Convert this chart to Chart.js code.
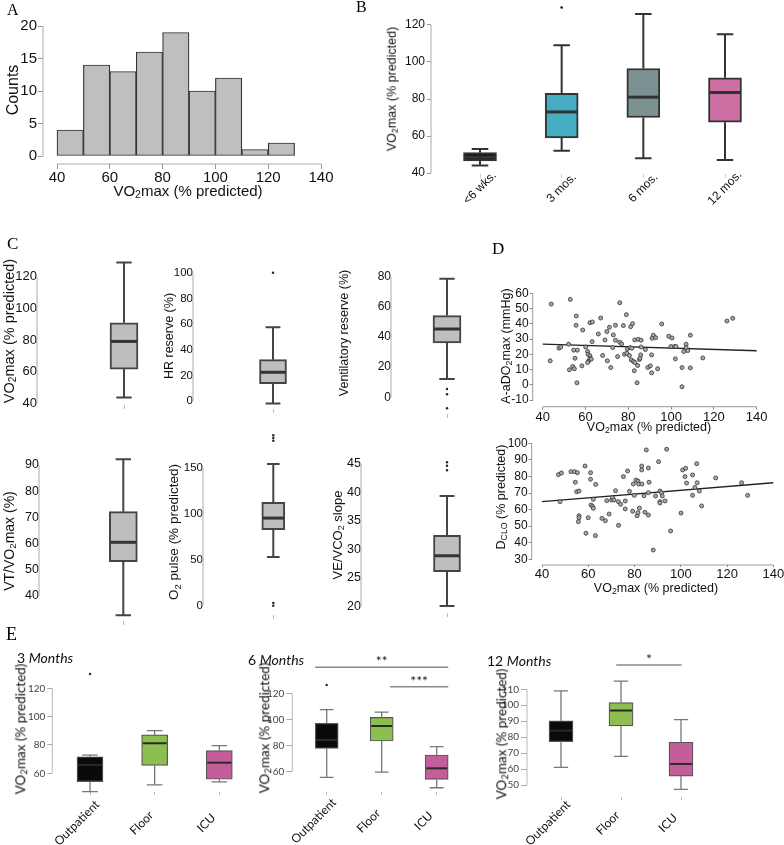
<!DOCTYPE html>
<html>
<head>
<meta charset="utf-8">
<title>VO2max figure</title>
<script src="https://cdn.jsdelivr.net/npm/chart.js@4.4.1/dist/chart.umd.min.js"></script>
<style>
  body { margin: 0; width: 784px; height: 845px; position: relative; overflow: hidden; background: #fff;
         font-family: 'Liberation Sans', Arial, sans-serif; color: #111; }
  canvas { position: absolute; left: 0; top: 0; }
  .t { position: absolute; white-space: nowrap; line-height: 1; }
  .rot { transform: translate(-50%, -50%) rotate(-90deg); }
  .mid { transform: translate(-50%, -50%); }
  .left { transform: translateY(-50%); }
  .pl { font-family: 'Liberation Serif', 'Times New Roman', serif; color: #000; }
  .lato { font-family: Lato, sans-serif; }
  sub { font-size: 0.7em; vertical-align: -0.25em; line-height: 0; }
</style>
</head>
<body>
<canvas id="cA" width="784" height="845"></canvas>
<canvas id="cB" width="784" height="845"></canvas>
<canvas id="cC1" width="784" height="845"></canvas>
<canvas id="cC2" width="784" height="845"></canvas>
<canvas id="cC3" width="784" height="845"></canvas>
<canvas id="cC4" width="784" height="845"></canvas>
<canvas id="cC5" width="784" height="845"></canvas>
<canvas id="cC6" width="784" height="845"></canvas>
<canvas id="cD1" width="784" height="845"></canvas>
<canvas id="cD2" width="784" height="845"></canvas>
<canvas id="cE1" width="784" height="845"></canvas>
<canvas id="cE2" width="784" height="845"></canvas>
<canvas id="cE3" width="784" height="845"></canvas>

<div class="t pl" style="left:7px;top:2px;font-size:16px">A</div>
<div class="t pl" style="left:356px;top:-1px;font-size:16px">B</div>
<div class="t pl" style="left:7px;top:235px;font-size:17px">C</div>
<div class="t pl" style="left:492px;top:240px;font-size:17px">D</div>
<div class="t pl" style="left:6px;top:625px;font-size:18px">E</div>

<div class="t rot" style="left:13px;top:90px;font-size:16px">Counts</div>
<div class="t mid" style="left:188px;top:190px;font-size:15px">VO<sub>2</sub>max (% predicted)</div>
<div class="t rot" style="left:392px;top:89px;font-size:12.5px">VO<sub>2</sub>max (% predicted)</div>
<div class="t rot" style="left:9px;top:331px;font-size:14.5px">VO<sub>2</sub>max (% predicted)</div>
<div class="t rot" style="left:169px;top:336px;font-size:12.5px">HR reserve (%)</div>
<div class="t rot" style="left:344px;top:333px;font-size:12.5px">Ventilatory reserve (%)</div>
<div class="t rot" style="left:9px;top:541px;font-size:14px">VT/VO<sub>2</sub>max (%)</div>
<div class="t rot" style="left:174px;top:532px;font-size:13.5px">O<sub>2</sub> pulse (% predicted)</div>
<div class="t rot" style="left:337px;top:535px;font-size:13px">VE/VCO<sub>2</sub> slope</div>
<div class="t rot" style="left:506px;top:346px;font-size:12.5px">A-aDO<sub>2</sub>max (mmHg)</div>
<div class="t mid" style="left:649px;top:427px;font-size:12.5px">VO<sub>2</sub>max (% predicted)</div>
<div class="t rot" style="left:501px;top:497px;font-size:12.5px">D<sub>CLO</sub> (% predicted)</div>
<div class="t mid" style="left:656px;top:588px;font-size:12.5px">VO<sub>2</sub>max (% predicted)</div>
<div class="t lato left" style="left:17px;top:658px;font-size:14px">3 <i>Months</i></div>
<div class="t lato left" style="left:248px;top:660px;font-size:14px">6 <i>Months</i></div>
<div class="t lato left" style="left:487px;top:661px;font-size:14px">12 <i>Months</i></div>
<div class="t lato rot" style="left:21px;top:729px;font-size:13.5px">VO<sub>2</sub>max (% predicted)</div>
<div class="t lato rot" style="left:265px;top:728px;font-size:13.5px">VO<sub>2</sub>max (% predicted)</div>
<div class="t lato rot" style="left:502px;top:734px;font-size:13.5px">VO<sub>2</sub>max (% predicted)</div>

<script>
// ---------- A: histogram
const histEdges = [40, 50, 60, 70, 80, 90, 100, 110, 120];
const histWidth = 10;
const histCounts = [4, 14, 13, 16, 19, 10, 12, 1, 2];
const histTicksX = [40, 60, 80, 100, 120, 140];
const histTicksY = [0, 5, 10, 15, 20];

// ---------- B: VO2max by time since illness
const timeCats = ['<6 wks.', '3 mos.', '6 mos.', '12 mos.'];
const timeLow  = [44, 52, 48, 47];
const timeQ1   = [46.5, 59, 70, 67.5];
const timeMed  = [48.5, 73, 81, 83.5];
const timeQ3   = [51, 83, 96.5, 91.5];
const timeHigh = [53, 109, 126, 115];
const timeOut  = [[], [129.5], [], []];
const timeTicks = [40, 60, 80, 100, 120];

// ---------- C: CPET variables (VO2max, HR res, vent res, VT/VO2max, O2 pulse, VE/VCO2)
const cpetLow  = [43.7, -2, 12.2, 32.7, 53.3, 20.1];
const cpetQ1   = [61.6, 13.5, 36, 53.1, 83, 26.1];
const cpetMed  = [79.1, 22.4, 45.3, 60.5, 95.7, 28.9];
const cpetQ3   = [90.9, 32.2, 54.2, 72.2, 113, 32.5];
const cpetHigh = [128.9, 57.4, 78.7, 92.2, 154.7, 39.4];
const cpetOut  = [[], [100], [5.5, 2, -7.3], [], [186, 183, 180, 3, 0], [45.3, 44.7, 43.9]];
const cpetTicks = [
  [40, 60, 80, 100, 120], [0, 20, 40, 60, 80, 100], [0, 20, 40, 60, 80],
  [40, 50, 60, 70, 80, 90], [0, 50, 100, 150], [20, 25, 30, 35, 40, 45]
];

// ---------- D: scatter plots
const d1x = [44.0, 52.9, 55.7, 55.6, 58.7, 62.1, 63.2, 67.1, 66.0, 63.1, 71.2, 70.0, 74.0, 76.0, 79.1, 77.7, 81.1, 82.0, 73.0, 74.0,
  76.0, 76.9, 69.1, 47.6, 48.4, 52.1, 43.5, 54.5, 56.2, 55.1, 54.0, 54.8, 52.5, 56.0, 58.3, 60.1, 61.0, 61.2, 62.1, 61.5,
  62.1, 62.7, 61.0, 68.0, 70.2, 71.8, 72.7, 75.0, 78.2, 79.3, 79.6, 80.8, 81.6, 80.5, 81.4, 82.4, 83.1, 82.8, 84.1, 84.4,
  85.2, 85.5, 85.8, 83.0, 84.7, 86.0, 86.0, 88.0, 89.1, 90.3, 90.9, 90.9, 91.1, 91.7, 92.8, 93.7, 95.6, 98.9, 100.4, 99.9,
  101.5, 102.3, 102.0, 105.1, 105.1, 105.9, 107.0, 107.0, 107.8, 109.0, 109.0, 114.8, 126.1, 128.8];
const d1y = [52.9, 56.0, 45.1, 39.0, 35.9, 40.7, 41.2, 43.8, 33.3, 28.3, 37.7, 34.9, 39.0, 53.8, 46.0, 38.8, 38.1, 40.1, 32.7, 29.2,
  27.9, 26.8, 29.4, 24.0, 24.8, 26.6, 15.7, 22.7, 22.7, 17.4, 12.0, 10.5, 9.8, 1.3, 12.4, 24.8, 21.8, 20.0, 19.0, 15.7,
  17.4, 16.8, 14.6, 19.2, 15.7, 11.3, 24.4, 18.5, 20.0, 20.7, 23.5, 24.4, 24.0, 19.2, 16.3, 15.3, 14.6, 9.2, 1.3, 12.6,
  16.6, 17.4, 19.6, 29.4, 29.8, 29.2, 24.8, 23.1, 11.3, 12.4, 19.6, 7.8, 30.5, 32.5, 30.9, 10.5, 39.9, 31.8, 30.7, 25.1,
  25.1, 25.1, 17.0, 11.3, -1.3, 21.8, 26.6, 24.4, 22.4, 32.5, 11.1, 17.6, 41.8, 43.6];
const d1FitX = [40, 140];
const d1FitY = [26.6, 22.3];
const d2x = [47.1, 48.4, 47.8, 52.5, 54.0, 55.3, 54.4, 55.0, 56.0, 56.0, 56.0, 55.7, 58.6, 61.0, 61.0, 63.2, 61.2, 61.9, 62.2, 62.2,
  60.0, 59.0, 63.1, 65.9, 67.4, 69.0, 68.0, 70.1, 70.5, 71.1, 71.8, 73.0, 74.0, 73.1, 75.2, 77.0, 77.8, 76.0, 76.0, 79.2,
  79.5, 79.9, 80.6, 81.5, 81.8, 81.1, 81.5, 82.1, 83.1, 83.1, 83.2, 84.1, 84.5, 85.1, 86.0, 86.3, 86.0, 86.0, 88.1, 89.1,
  90.4, 91.0, 91.0, 91.0, 91.7, 92.0, 93.2, 93.9, 95.6, 100.1, 100.8, 102.1, 101.8, 102.5, 105.1, 105.1, 106.1, 106.9, 107.1, 108.0,
  109.0, 115.1, 126.3, 128.9];
const d2y = [81.1, 82.1, 64.8, 82.9, 82.9, 82.3, 76.5, 70.8, 71.2, 56.3, 55.1, 52.7, 86.3, 82.3, 78.3, 75.2, 62.8, 61.8, 60.8, 66.2,
  55.1, 45.7, 44.3, 54.7, 53.3, 57.3, 65.4, 65.8, 67.2, 65.8, 71.4, 64.8, 63.2, 50.5, 79.9, 83.3, 71.0, 65.2, 60.4, 59.0,
  75.4, 68.6, 77.8, 77.2, 75.4, 56.3, 58.1, 60.9, 86.3, 83.9, 75.4, 68.4, 58.4, 96.0, 85.1, 76.5, 70.2, 56.7, 35.6, 68.2,
  88.9, 71.2, 64.8, 64.0, 70.2, 68.2, 65.2, 96.4, 47.1, 57.9, 83.9, 84.9, 79.9, 76.0, 80.9, 68.6, 73.4, 87.7, 76.2, 71.2,
  62.2, 79.1, 76.2, 68.6];
const d2FitX = [40, 140];
const d2FitY = [64.8, 76.2];
const dTicksX = [40, 60, 80, 100, 120, 140];
const d1TicksY = [-10, 0, 10, 20, 30, 40, 50, 60];
const d2TicksY = [30, 40, 50, 60, 70, 80, 90, 100];

// ---------- E: by admission level, at 3 / 6 / 12 months
const wardCats = ['Outpatient', 'Floor', 'ICU'];
const wardLow  = [[47.1, 51.8, 53.9], [55.7, 59.7, 47.7], [61.1, 68, 47.3]];
const wardQ1   = [[54.1, 65.6, 55.8], [77.9, 83.5, 54.1], [77.2, 87, 55.6]];
const wardMed  = [[65.9, 81.2, 67.5], [84.3, 95, 62.6], [84.1, 96.7, 63.2]];
const wardQ3   = [[71.7, 87.1, 76], [97, 101.6, 72.8], [90.2, 101.7, 76.8]];
const wardHigh = [[72.9, 90.1, 79.5], [107.5, 105.7, 79.2], [109, 115.1, 91]];
const wardOut  = [[[130.1], [], []], [[126.4], [], []], [[], [], []]];
const wardTicks = [[60, 80, 100, 120], [60, 80, 100, 120], [50, 60, 70, 80, 90, 100, 110]];
// significance bars: from, to (category units), level (y units), label
const sigBars = [[], [[-0.21, 2.21, 140, '**'], [1.15, 2.21, 125.1, '***']], [[0.92, 2.01, 125.3, '*']]];

// ================= drawing =================
Chart.defaults.font.family = "'Liberation Sans', Arial, sans-serif";
Chart.defaults.color = '#111';

const W = 784, H = 845;

// R-style axis lines, only between first and last tick
Chart.register({
  id: 'rAxes',
  beforeDatasetsDraw(chart, args, o) {
    if (!o || !o.color) return;
    const {ctx, chartArea: a, scales: {x, y}} = chart;
    ctx.save();
    ctx.strokeStyle = o.color;
    ctx.lineWidth = o.width || 1;
    ctx.beginPath();
    if (o.y) {
      const t = y.ticks;
      ctx.moveTo(a.left, y.getPixelForValue(t[0].value));
      ctx.lineTo(a.left, y.getPixelForValue(t[t.length - 1].value));
    }
    if (o.x) {
      const t = x.ticks;
      ctx.moveTo(x.getPixelForValue(t[0].value), a.bottom);
      ctx.lineTo(x.getPixelForValue(t[t.length - 1].value), a.bottom);
    }
    ctx.stroke();
    ctx.restore();
  }
});

// whiskers, medians and outliers on top of the floating-bar boxes
Chart.register({
  id: 'boxes',
  afterDatasetsDraw(chart, args, o) {
    if (!o || !o.med) return;
    const {ctx} = chart;
    const y = chart.scales.y;
    const py = v => y.getPixelForValue(v);
    ctx.save();
    chart.getDatasetMeta(0).data.forEach((bar, i) => {
      const cx = bar.x, w = bar.width, cap = w * o.cap / 2;
      ctx.strokeStyle = o.wColor;
      ctx.lineWidth = o.wWidth;
      ctx.beginPath();
      ctx.moveTo(cx, py(o.q3[i])); ctx.lineTo(cx, py(o.high[i]));
      ctx.moveTo(cx - cap, py(o.high[i])); ctx.lineTo(cx + cap, py(o.high[i]));
      ctx.moveTo(cx, py(o.q1[i])); ctx.lineTo(cx, py(o.low[i]));
      ctx.moveTo(cx - cap, py(o.low[i])); ctx.lineTo(cx + cap, py(o.low[i]));
      ctx.stroke();
      ctx.strokeStyle = o.mColor;
      ctx.lineWidth = o.mWidth;
      ctx.beginPath();
      ctx.moveTo(cx - w / 2 + 1, py(o.med[i]));
      ctx.lineTo(cx + w / 2 - 1, py(o.med[i]));
      ctx.stroke();
      ctx.fillStyle = o.oColor;
      (o.out[i] || []).forEach(v => {
        ctx.beginPath();
        ctx.arc(cx, py(v), o.oRadius, 0, Math.PI * 2);
        ctx.fill();
      });
    });
    ctx.restore();
  }
});

// category names under the ticks, rotated 45 degrees and centred on their anchor
Chart.register({
  id: 'rotLabels',
  afterDraw(chart, args, o) {
    if (!o || !o.labels) return;
    const {ctx, chartArea: a, scales: {x}} = chart;
    ctx.save();
    ctx.font = o.font;
    ctx.fillStyle = o.color || '#111';
    ctx.textAlign = 'center';
    ctx.textBaseline = 'middle';
    o.labels.forEach((lab, i) => {
      ctx.save();
      ctx.translate(x.getPixelForValue(i) + o.dx, a.bottom + o.dy);
      ctx.rotate(-Math.PI / 4);
      ctx.fillText(lab, 0, 0);
      ctx.restore();
    });
    ctx.restore();
  }
});

// significance brackets
Chart.register({
  id: 'sig',
  afterDraw(chart, args, o) {
    if (!o || !o.items || !o.items.length) return;
    const {ctx, scales: {x, y}} = chart;
    ctx.save();
    o.items.forEach(([from, to, lv, label]) => {
      const x1 = x.getPixelForValue(from), x2 = x.getPixelForValue(to), yy = y.getPixelForValue(lv);
      ctx.strokeStyle = '#8a8a8a';
      ctx.lineWidth = 1.5;
      ctx.beginPath(); ctx.moveTo(x1, yy); ctx.lineTo(x2, yy); ctx.stroke();
      ctx.fillStyle = '#222';
      ctx.font = '14px Lato, sans-serif';
      ctx.textAlign = 'center';
      ctx.textBaseline = 'alphabetic';
      ctx.fillText(label, (x1 + x2) / 2, yy - 1);
    });
    ctx.restore();
  }
});

function span(cal, p0, p1) {
  const [a, pa, b, pb] = cal;
  const f = p => a + (p - pa) * (b - a) / (pb - pa);
  return {min: f(p0), max: f(p1)};
}

function axis(r, ticks, grid, tickOpts) {
  return {
    type: 'linear', min: r.min, max: r.max, bounds: 'data', offset: false,
    afterBuildTicks: s => { s.ticks = ticks.map(v => ({value: v})); },
    border: {display: false},
    grid: Object.assign({drawOnChartArea: false, drawTicks: true, offset: false}, grid),
    ticks: Object.assign({autoSkip: false, maxRotation: 0, minRotation: 0}, tickOpts)
  };
}

// every chart owns a full-page canvas; its plot area is pinned by padding and fixed axis boxes
function draw(id, area, xs, ys, datasets, plugins, type) {
  const yw = Math.min(45, area.l), xh = Math.min(70, H - area.b);
  ys.afterFit = s => { s.width = yw; s.paddingTop = 0; s.paddingBottom = 0; };
  xs.afterFit = s => { s.height = xh; s.paddingLeft = 0; s.paddingRight = 0; };
  return new Chart(document.getElementById(id), {
    type: type || 'bar',
    data: {datasets},
    options: {
      responsive: false, animation: false, devicePixelRatio: 1, events: [],
      layout: {autoPadding: false, padding: {left: area.l - yw, top: area.t, right: W - area.r, bottom: H - area.b - xh}},
      plugins: Object.assign({legend: {display: false}, tooltip: {enabled: false}}, plugins),
      scales: {x: xs, y: ys}
    }
  });
}

function boxSet(q1, q3, colors, border, bw, thick) {
  return {
    data: q1.map((v, i) => ({x: i, y: [v, q3[i]]})),
    backgroundColor: colors, borderColor: border, borderWidth: bw,
    borderSkipped: false, barThickness: thick
  };
}

// ----- A
const aA = {l: 43, t: 18, r: 325, b: 164};
draw('cA', aA,
  axis(span([40, 57, 120, 268.2], aA.l, aA.r), histTicksX, {tickLength: 5, tickColor: '#999'}, {font: {size: 15}, padding: 0}),
  axis(span([0, 156, 20, 26], aA.b, aA.t), histTicksY, {tickLength: 5, tickColor: '#999'}, {font: {size: 15}, padding: 1}),
  [{
    data: histEdges.map((e, i) => ({x: e + histWidth / 2, y: histCounts[i]})),
    backgroundColor: '#bfbfbf', borderColor: '#333', borderWidth: 1.2, borderSkipped: false,
    barPercentage: 1, categoryPercentage: 1
  }],
  {rAxes: {x: true, y: true, color: '#aaa'}});

// ----- B
const aB = {l: 431, t: 3, r: 762, b: 174};
draw('cB', aB,
  axis(span([0, 480, 3, 725], aB.l, aB.r), [0, 1, 2, 3], {tickLength: 4, tickColor: '#ccc'}, {callback: () => ''}),
  axis(span([40, 173, 120, 25], aB.b, aB.t), timeTicks, {tickLength: 4, tickColor: '#999'}, {font: {size: 12}, padding: 2}),
  [boxSet(timeQ1, timeQ3, ['#151515', '#47adc3', '#7c9292', '#cc70a3'], '#333', 2, 33)],
  {
    rAxes: {y: true, color: '#aaa'},
    rotLabels: {labels: timeCats, font: "12px 'Liberation Sans', Arial, sans-serif", dx: 0, dy: 14},
    boxes: {q1: timeQ1, q3: timeQ3, med: timeMed, low: timeLow, high: timeHigh, out: timeOut,
      wColor: '#333', wWidth: 2, mColor: '#333', mWidth: 3, cap: 0.5, oColor: '#111', oRadius: 1.3}
  });

// ----- C (one box per panel)
const cPanels = [
  {id: 'cC1', area: {l: 37, t: 258, r: 211, b: 405}, ycal: [40, 403.3, 120, 276.7], font: 13, bar: 28},
  {id: 'cC2', area: {l: 193, t: 258, r: 353, b: 409}, ycal: [0, 401, 100, 272.7], font: 11.5, bar: 27},
  {id: 'cC3', area: {l: 391, t: 258, r: 503, b: 414}, ycal: [0, 397.3, 80, 276.7], font: 12, bar: 28},
  {id: 'cC4', area: {l: 39, t: 440, r: 207.6, b: 621}, ycal: [40, 596, 90, 465], font: 12.5, bar: 28},
  {id: 'cC5', area: {l: 203, t: 430, r: 343.6, b: 615}, ycal: [0, 605.8, 150, 468.3], font: 11.5, bar: 23},
  {id: 'cC6', area: {l: 361, t: 440, r: 533, b: 613}, ycal: [20, 606.5, 45, 464], font: 12.5, bar: 27}
];
cPanels.forEach((p, k) => {
  const q1 = [cpetQ1[k]], q3 = [cpetQ3[k]];
  draw(p.id, p.area,
    axis(span([-1, p.area.l, 1, p.area.r], p.area.l, p.area.r), [0], {tickLength: 4, tickColor: '#bbb'}, {callback: () => ''}),
    axis(span(p.ycal, p.area.b, p.area.t), cpetTicks[k], {tickLength: 0}, {font: {size: p.font}, padding: 0}),
    [boxSet(q1, q3, ['#bebebe'], '#444', 2, p.bar)],
    {
      rAxes: {y: true, color: '#aaa'},
      boxes: {q1, q3, med: [cpetMed[k]], low: [cpetLow[k]], high: [cpetHigh[k]], out: [cpetOut[k]],
        wColor: '#444', wWidth: 2, mColor: '#333', mWidth: 3, cap: 0.55, oColor: '#222', oRadius: 1.2}
    });
});

// ----- D
function scatterSets(xs, ys, fx, fy) {
  return [
    {type: 'scatter', data: xs.map((v, i) => ({x: v, y: ys[i]})), pointRadius: 2,
      pointBackgroundColor: '#a8a8a8', pointBorderColor: '#333', pointBorderWidth: 0.8},
    {type: 'line', data: fx.map((v, i) => ({x: v, y: fy[i]})), borderColor: '#222', borderWidth: 1.3,
      pointRadius: 0, fill: false}
  ];
}
const aD1 = {l: 532.7, t: 289, r: 760, b: 406.7};
draw('cD1', aD1,
  axis(span([40, 542.7, 140, 756.7], aD1.l, aD1.r), dTicksX, {tickLength: 3, tickColor: '#888'}, {font: {size: 13}, padding: 0}),
  axis(span([-10, 400, 60, 293.3], aD1.b, aD1.t), d1TicksY, {tickLength: 3, tickColor: '#888'}, {font: {size: 12}, padding: 1}),
  scatterSets(d1x, d1y, d1FitX, d1FitY),
  {rAxes: {x: true, y: true, color: '#999'}}, 'scatter');

const aD2 = {l: 531.7, t: 440, r: 776, b: 565};
draw('cD2', aD2,
  axis(span([40, 542, 140, 773.3], aD2.l, aD2.r), dTicksX, {tickLength: 2, tickColor: '#888'}, {font: {size: 13}, padding: 0}),
  axis(span([30, 559.3, 100, 443.3], aD2.b, aD2.t), d2TicksY, {tickLength: 3, tickColor: '#888'}, {font: {size: 12}, padding: 1}),
  scatterSets(d2x, d2y, d2FitX, d2FitY),
  {rAxes: {x: true, y: true, color: '#999'}}, 'scatter');

// ----- E
const ePanels = [
  {id: 'cE1', area: {l: 52.3, t: 668, r: 251, b: 792}, xcal: [0, 90, 2, 219.3], ycal: [60, 773.3, 120, 688.3], bar: 26, tl: 5, dy: 31},
  {id: 'cE2', area: {l: 292.3, t: 650, r: 475, b: 792}, xcal: [0, 326.7, 2, 436.7], ycal: [60, 771.7, 120, 693.4], bar: 23, tl: 6, dy: 29},
  {id: 'cE3', area: {l: 527, t: 650, r: 720, b: 797}, xcal: [0, 561, 2, 681], ycal: [50, 785, 110, 689.3], bar: 24, tl: 6, dy: 26}
];
ePanels.forEach((p, k) => {
  draw(p.id, p.area,
    axis(span(p.xcal, p.area.l, p.area.r), [0, 1, 2], {tickLength: 3, tickColor: '#bbb'}, {callback: () => ''}),
    axis(span(p.ycal, p.area.b, p.area.t), wardTicks[k], {tickLength: p.tl, tickColor: '#aaa'},
      {font: {family: 'Lato, sans-serif', size: 10}, color: '#444', padding: 2}),
    [boxSet(wardQ1[k], wardQ3[k], ['#0a0a0a', '#8cbf4f', '#c45e9b'], '#555', 1.2, p.bar)],
    {
      rAxes: {y: true, color: '#bbb'},
      rotLabels: {labels: wardCats, font: '12px Lato, sans-serif', dx: -13, dy: p.dy},
      boxes: {q1: wardQ1[k], q3: wardQ3[k], med: wardMed[k], low: wardLow[k], high: wardHigh[k], out: wardOut[k],
        wColor: '#777', wWidth: 1.3, mColor: '#2a2a2a', mWidth: 2, cap: 0.6, oColor: '#222', oRadius: 1.2},
      sig: {items: sigBars[k]}
    });
});
</script>
</body>
</html>
